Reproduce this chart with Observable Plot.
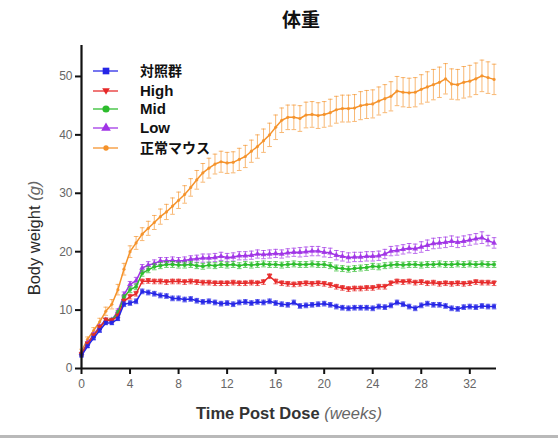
<!DOCTYPE html>
<html>
<head>
<meta charset="utf-8">
<script src="https://cdn.jsdelivr.net/npm/d3@7"></script>
<script src="https://cdn.jsdelivr.net/npm/@observablehq/plot@0.6"></script>
<style>
  html, body { margin: 0; padding: 0; background: #fff; }
  #wrap { position: relative; width: 558px; height: 438px; overflow: hidden; }
  #title { position: absolute; left: 0; width: 602px; top: 5px; text-align: center;
           font-family: "Noto Sans CJK JP", sans-serif; font-weight: 700; font-size: 19px; color: #111; }
  #chart { position: absolute; left: 0; top: 0; }
  #edge { position: absolute; left: 0; right: 0; bottom: 0; height: 3px; background: #b9b9b9; }
</style>
</head>
<body>
<div id="wrap">
  <div id="chart"></div>
  <div id="title">体重</div>
  <div id="edge"></div>
</div>
<script>
// ---- data ----
const weeks = [0,0.5,1,1.5,2,2.5,3,3.5,4,4.5,5,5.5,6,6.5,7,7.5,8,8.5,9,9.5,10,10.5,11,11.5,12,12.5,13,13.5,14,14.5,15,15.5,16,16.5,17,17.5,18,18.5,19,19.5,20,20.5,21,21.5,22,22.5,23,23.5,24,24.5,25,25.5,26,26.5,27,27.5,28,28.5,29,29.5,30,30.5,31,31.5,32,32.5,33,33.5,34];

const groups = ["対照群", "High", "Mid", "Low", "正常マウス"];
const colors = ["#2525e6", "#e62828", "#2cbc2c", "#a033e6", "#f5922a"];

const control = [2.2,3.8,5.2,6.5,7.8,7.8,8.5,11.0,11.2,11.5,13.2,13.0,12.8,12.5,12.4,12.0,12.0,11.8,11.9,11.6,11.4,11.5,11.3,11.1,11.2,11.0,11.3,11.4,11.2,11.4,11.3,11.5,11.2,11.0,10.9,11.3,10.7,10.8,10.9,11.0,11.1,10.9,10.6,10.4,10.3,10.4,10.4,10.4,10.3,10.6,10.5,10.8,11.3,11.0,10.6,10.3,10.8,11.1,10.9,10.9,10.7,10.3,10.2,10.5,10.6,10.5,10.7,10.6,10.6];
const high = [2.4,4.2,5.6,7.0,8.3,8.2,9.0,11.5,12.3,12.8,14.9,15.0,14.9,14.9,14.8,14.9,14.9,14.8,14.9,14.8,14.7,14.7,14.6,14.6,14.6,14.7,14.6,14.6,14.7,14.6,14.8,15.8,14.9,14.6,14.5,14.4,14.5,14.6,14.5,14.6,14.5,14.3,14.0,13.8,13.6,13.7,13.7,13.8,13.8,14.0,14.0,14.6,14.9,14.8,14.9,14.7,14.8,14.6,14.7,14.5,14.6,14.5,14.6,14.5,14.6,14.8,14.7,14.7,14.6];
const mid = [2.4,4.2,5.6,7.0,8.3,8.3,9.5,12.2,13.5,14.0,16.3,16.9,17.4,17.6,17.8,17.8,17.7,17.7,17.8,17.6,17.5,17.7,17.6,17.8,17.7,17.8,17.6,17.8,17.7,17.8,17.9,17.8,17.8,17.7,17.8,17.9,17.8,17.8,17.9,17.8,17.8,17.6,17.2,17.1,17.0,17.1,17.2,17.3,17.5,17.4,17.6,17.7,17.8,17.7,17.8,17.8,17.7,17.8,17.8,17.9,17.8,17.8,17.9,17.8,17.9,17.8,17.9,17.8,17.8];
const low = [2.6,4.4,5.8,7.2,8.3,8.3,9.8,12.6,14.4,15.0,17.2,17.7,18.0,18.4,18.4,18.5,18.4,18.5,18.7,18.8,18.9,18.9,19.0,19.2,19.0,19.1,19.3,19.3,19.4,19.6,19.5,19.6,19.7,19.6,19.8,19.9,19.9,20.0,20.1,20.1,19.9,19.8,19.4,19.2,19.0,19.1,19.1,19.2,19.2,19.3,19.6,20.1,20.2,20.4,20.6,20.5,20.8,21.1,21.4,21.5,21.6,21.8,21.6,21.8,22.0,22.2,22.4,21.9,21.5];
const normal = [3.0,5.0,6.5,8.0,9.8,11.0,13.5,17.0,20.0,21.5,23.0,24.0,25.0,26.0,26.8,27.8,28.8,29.8,31.0,32.3,33.5,34.3,35.0,35.4,35.2,35.3,35.8,36.3,37.2,38.0,39.0,40.0,41.3,42.5,43.0,43.0,42.8,43.4,43.5,43.3,43.5,43.8,44.3,44.5,44.5,44.6,45.0,45.2,45.3,45.8,46.2,46.6,47.5,47.3,47.2,47.3,47.8,48.2,48.6,49.0,49.6,48.7,48.6,49.0,49.2,49.6,50.1,49.8,49.5];

// standard errors
const controlErr = [0.2,0.2,0.3,0.3,0.3,0.3,0.3,0.4,0.4,0.4,0.4,0.4,0.4,0.4,0.4,0.4,0.4,0.4,0.4,0.4,0.4,0.4,0.4,0.4,0.4,0.4,0.4,0.4,0.4,0.4,0.4,0.4,0.4,0.4,0.4,0.4,0.4,0.4,0.4,0.4,0.4,0.4,0.4,0.4,0.4,0.4,0.4,0.4,0.4,0.4,0.4,0.4,0.4,0.4,0.4,0.4,0.4,0.4,0.4,0.4,0.4,0.4,0.4,0.4,0.4,0.4,0.4,0.4,0.4];
const highErr = [0.2,0.2,0.3,0.3,0.3,0.3,0.3,0.4,0.4,0.4,0.4,0.4,0.4,0.4,0.4,0.4,0.4,0.4,0.4,0.4,0.4,0.4,0.4,0.4,0.4,0.4,0.4,0.4,0.4,0.4,0.4,0.4,0.4,0.4,0.4,0.4,0.4,0.4,0.4,0.4,0.4,0.4,0.4,0.4,0.4,0.4,0.4,0.4,0.4,0.4,0.4,0.4,0.4,0.4,0.4,0.4,0.4,0.4,0.4,0.4,0.4,0.4,0.4,0.4,0.4,0.4,0.4,0.4,0.4];
const midErr = [0.2,0.2,0.3,0.3,0.3,0.3,0.4,0.4,0.5,0.5,0.5,0.5,0.5,0.5,0.5,0.5,0.5,0.5,0.5,0.5,0.5,0.5,0.5,0.5,0.5,0.5,0.5,0.5,0.5,0.5,0.5,0.5,0.5,0.5,0.5,0.5,0.5,0.5,0.5,0.5,0.5,0.5,0.5,0.5,0.5,0.5,0.5,0.5,0.5,0.5,0.5,0.5,0.5,0.5,0.5,0.5,0.5,0.5,0.5,0.5,0.5,0.5,0.5,0.5,0.5,0.5,0.5,0.5,0.5];
const lowErr = [0.2,0.2,0.3,0.3,0.3,0.3,0.4,0.5,0.5,0.6,0.6,0.6,0.6,0.6,0.6,0.6,0.6,0.6,0.6,0.6,0.7,0.7,0.7,0.7,0.7,0.7,0.7,0.7,0.7,0.7,0.7,0.7,0.7,0.7,0.7,0.7,0.8,0.8,0.8,0.8,0.8,0.8,0.8,0.8,0.8,0.8,0.8,0.8,0.8,0.8,0.8,0.8,0.8,0.8,0.8,0.8,0.9,0.9,0.9,0.9,0.9,0.9,0.9,0.9,0.9,0.9,1.0,0.9,0.9];
const normalErr = [0.3,0.4,0.5,0.6,0.7,0.8,0.9,1.0,1.0,1.1,1.1,1.2,1.2,1.3,1.3,1.4,1.4,1.5,1.5,1.6,1.6,1.7,1.7,1.8,1.8,1.8,1.9,1.9,1.9,2.0,2.0,2.0,2.1,2.1,2.1,2.1,2.2,2.2,2.2,2.2,2.2,2.3,2.3,2.3,2.3,2.3,2.4,2.4,2.4,2.4,2.4,2.5,2.5,2.5,2.5,2.5,2.5,2.6,2.6,2.6,2.6,2.6,2.6,2.7,2.7,2.7,2.7,2.7,2.6];

const yTicks = [0,10,20,30,40,50];
const xTicks = [0,4,8,12,16,20,24,28,32];

// ---- build table ----
const seriesVals = [control, high, mid, low, normal];
const seriesErr = [controlErr, highErr, midErr, lowErr, normalErr];
const rows = [];
groups.forEach((g, gi) => {
  weeks.forEach((w, i) => rows.push({group: g, gi, week: w, value: seriesVals[gi][i], err: seriesErr[gi][i]}));
});

// custom symbols
const downTriangle = { draw(ctx, size) {
  const h = Math.sqrt(size / 0.433) / 2;
  ctx.moveTo(0, h); ctx.lineTo(h, -h * 0.8); ctx.lineTo(-h, -h * 0.8); ctx.closePath();
}};
const cap = { draw(ctx, size) { const r = Math.sqrt(size) / 2; ctx.moveTo(-r, 0); ctx.lineTo(r, 0); } };
const symbols = ["square", downTriangle, "circle", "triangle", "circle"];
const symR = [2.2, 2.1, 2.0, 2.2, 1.6];

const marks = [];
const order = [4, 3, 2, 1, 0];
for (const gi of order) {
  const data = rows.filter(d => d.gi === gi);
  const c = colors[gi];
  const eo = gi === 4 ? 0.65 : 0.7;
  marks.push(
    Plot.ruleX(data, {x: "week", y1: d => d.value - d.err, y2: d => d.value + d.err, stroke: c, strokeWidth: 1, strokeOpacity: eo}),
    Plot.dot(data, {x: "week", y: d => d.value + d.err, symbol: cap, r: 2.6, stroke: c, strokeWidth: 1, strokeOpacity: eo, fill: "none"}),
    Plot.dot(data, {x: "week", y: d => d.value - d.err, symbol: cap, r: 2.6, stroke: c, strokeWidth: 1, strokeOpacity: eo, fill: "none"}),
    Plot.line(data, {x: "week", y: "value", stroke: c, strokeWidth: 1.5}),
    Plot.dot(data, {x: "week", y: "value", symbol: symbols[gi], r: symR[gi], fill: c, stroke: "none", fillOpacity: 0.9})
  );
}

const chart = Plot.plot({
  width: 558,
  height: 438,
  marginLeft: 81,
  marginRight: 62,
  marginTop: 45,
  marginBottom: 70,
  style: {background: "transparent", overflow: "visible"},
  x: {domain: [0, 34.2], label: null},
  y: {domain: [0, 55.3], label: null},
  marks: [
    ...marks,
    Plot.axisX({ticks: xTicks, tickSize: 6, tickPadding: 5, stroke: "#111", strokeWidth: 2, fill: "#666",
      fontSize: 12, fontFamily: "Liberation Sans, Arial, sans-serif", label: null}),
    Plot.axisY({ticks: yTicks, tickSize: 6, tickPadding: 3, stroke: "#111", strokeWidth: 2, fill: "#666",
      fontSize: 12, fontFamily: "Liberation Sans, Arial, sans-serif", label: null}),
    Plot.ruleY([0], {stroke: "#111", strokeWidth: 2.2}),
    Plot.ruleX([0], {stroke: "#111", strokeWidth: 2.2})
  ]
});
document.getElementById("chart").appendChild(chart);

// ---- axis titles & legend (SVG text) ----
const svg = d3.select(chart);
const xl = svg.append("text").attr("x", 289).attr("y", 419).attr("text-anchor", "middle")
  .attr("font-family", "Liberation Sans, Arial, sans-serif").attr("font-size", 16.5).attr("fill", "#333");
xl.append("tspan").attr("font-weight", 700).text("Time Post Dose ");
xl.append("tspan").attr("font-style", "italic").attr("fill", "#666").text("(weeks)");

const yl = svg.append("text").attr("transform", "translate(40,238) rotate(-90)").attr("text-anchor", "middle")
  .attr("font-family", "Liberation Sans, Arial, sans-serif").attr("font-size", 16.5).attr("fill", "#2a2a2a");
yl.append("tspan").text("Body weight ");
yl.append("tspan").attr("font-style", "italic").attr("fill", "#666").text("(g)");

const legendY = [71, 91, 109, 128, 148];
const legendFont = ["Noto Sans CJK JP", "Liberation Sans", "Liberation Sans", "Liberation Sans", "Noto Sans CJK JP"];
const legendSize = [14, 15, 15, 15, 14];
const symGen = [d3.symbol(d3.symbolSquare, 44), null, d3.symbol(d3.symbolCircle, 40), d3.symbol(d3.symbolTriangle, 40), d3.symbol(d3.symbolCircle, 22)];
groups.forEach((g, gi) => {
  const y = legendY[gi];
  const c = colors[gi];
  svg.append("line").attr("x1", 93).attr("x2", 118).attr("y1", y).attr("y2", y)
    .attr("stroke", c).attr("stroke-width", 1.8).attr("stroke-opacity", 0.7);
  if (gi === 1) {
    svg.append("path").attr("d", "M-3.8,-2.8L3.8,-2.8L0,3.8Z").attr("transform", `translate(106,${y})`).attr("fill", c);
  } else {
    svg.append("path").attr("d", symGen[gi]()).attr("transform", `translate(106,${y})`).attr("fill", c);
  }
  svg.append("text").attr("x", 140).attr("y", y).attr("dy", "0.36em").attr("text-anchor", "start")
    .attr("font-family", legendFont[gi]).attr("font-weight", 700)
    .attr("font-size", legendSize[gi]).attr("fill", "#111").text(g);
});
</script>
</body>
</html>
